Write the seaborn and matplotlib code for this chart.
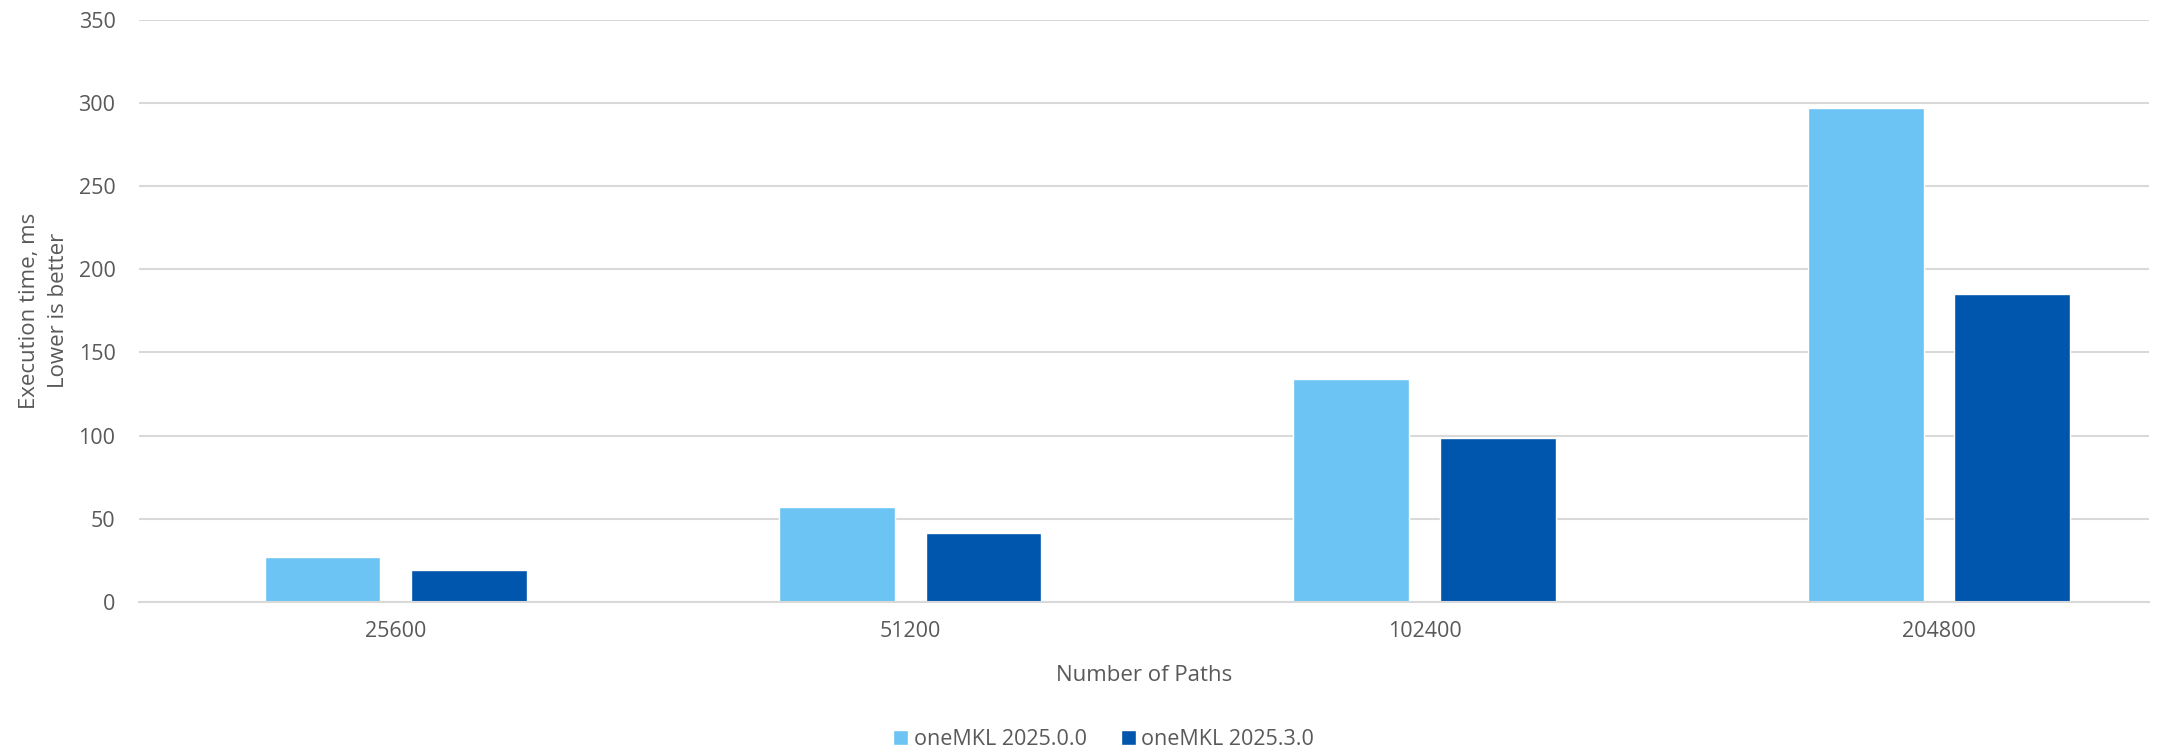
import matplotlib
matplotlib.use("Agg")
import matplotlib.pyplot as plt
import seaborn as sns
import pandas as pd

# Benchmark data: execution time (ms) per number of paths
paths = ["25600", "51200", "102400", "204800"]
time_2025_0 = [27, 57, 134, 297]
time_2025_3 = [19, 41.5, 98.5, 185]
series_names = ["oneMKL 2025.0.0", "oneMKL 2025.3.0"]
colors = ["#6cc4f4", "#0055ad"]

df = pd.DataFrame({
    "paths": paths * 2,
    "time": time_2025_0 + time_2025_3,
    "version": [series_names[0]] * len(paths) + [series_names[1]] * len(paths),
})

sns.set_theme(style="white")
plt.rcParams["font.family"] = ["Open Sans", "DejaVu Sans"]
text_color = "#595959"
grid_color = "#d9d9d9"

fig = plt.figure(figsize=(21.77, 7.53), dpi=100)
ax = fig.add_axes([0.0639, 0.2005, 0.9232, 0.7735])

sns.barplot(data=df, x="paths", y="time", hue="version", order=paths,
            hue_order=series_names, palette=colors, width=0.57, gap=0.21,
            saturation=1, ax=ax, legend=True)

ax.set_ylim(0, 350)
ax.set_yticks(range(0, 351, 50))
ax.set_xlim(-0.499, 3.408)
ax.yaxis.grid(True, color=grid_color, linewidth=1.5)
ax.set_axisbelow(True)
for side in ["top", "right", "left"]:
    ax.spines[side].set_visible(False)
ax.spines["bottom"].set_color(grid_color)
ax.spines["bottom"].set_linewidth(1.5)
ax.tick_params(axis="both", length=0, labelsize=15.5, colors=text_color)
ax.tick_params(axis="y", pad=17)
ax.tick_params(axis="x", pad=14)

ax.set_xlabel("Number of Paths", fontsize=16, color=text_color, labelpad=16)
ax.set_ylabel("Execution time, ms\nLower is better", fontsize=16,
              color=text_color, labelpad=7, linespacing=1.5)

handles, labels = ax.get_legend_handles_labels()
ax.get_legend().remove()
fig.legend(handles, labels, loc="center", bbox_to_anchor=(0.507, 0.018),
           ncol=2, frameon=False, fontsize=15.5, labelcolor=text_color,
           handlelength=0.7, handleheight=0.7, handletextpad=0.25,
           columnspacing=1.6, borderpad=0.1)

fig.savefig("out.png", dpi=100)
